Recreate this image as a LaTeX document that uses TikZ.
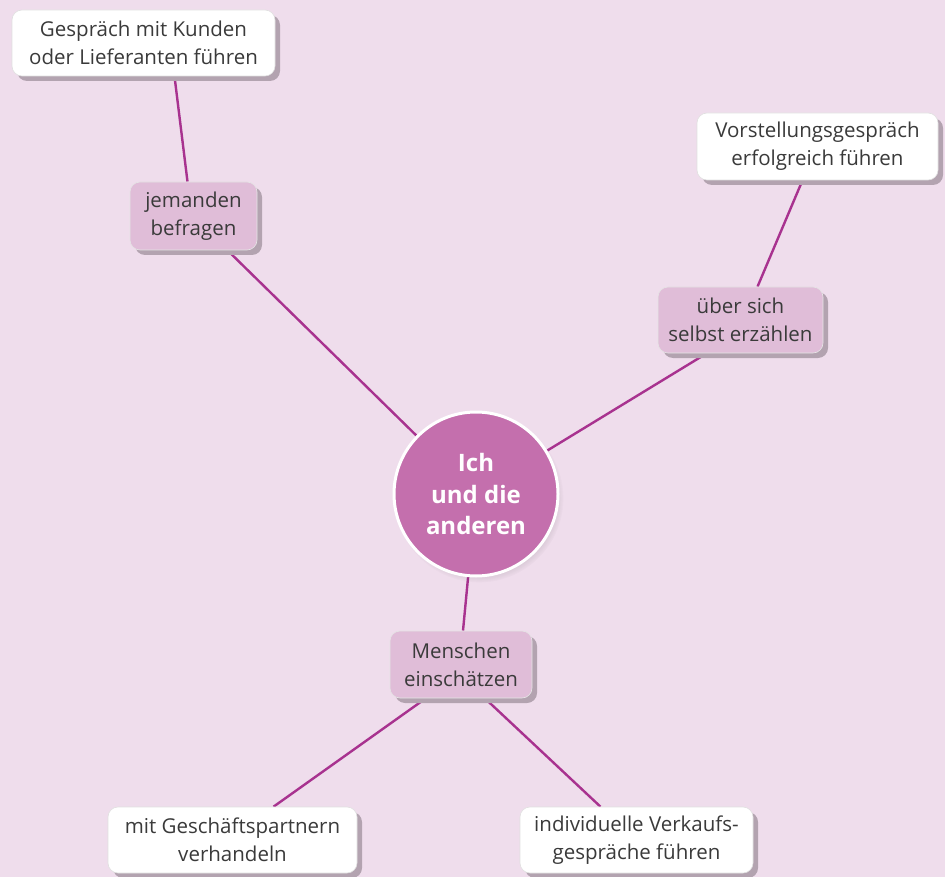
\documentclass[tikz,border=0pt]{standalone}
\usepackage{fontspec}
\setmainfont{Open Sans}
\usetikzlibrary{shadows,calc}
\pgfdeclarelayer{bg}
\pgfsetlayers{bg,main}
\definecolor{bgc}{HTML}{EFDDEC}
\definecolor{pinkbox}{HTML}{E0BDD8}
\definecolor{shadowc}{HTML}{B3A3B0}
\definecolor{linec}{HTML}{A8328F}
\definecolor{circc}{HTML}{C46FAD}
\definecolor{txt}{HTML}{3A3A3A}
\tikzset{
  box/.style={rounded corners=10pt, align=center, text=txt, inner sep=0pt,
    font=\fontsize{20.5}{28}\selectfont,
    drop shadow={shadow xshift=5pt, shadow yshift=-5pt, fill=shadowc, opacity=1}},
  whitebox/.style={box, fill=white, draw=black!12, line width=0.6pt},
  pinkbx/.style={box, fill=pinkbox, draw=black!10, line width=0.6pt},
  hub/.style={circle, fill=circc, draw=white, line width=3pt, minimum size=164pt,
    inner sep=0pt, align=center, text=white, font=\bfseries\fontsize{24}{31.5}\selectfont,
    circular drop shadow={shadow xshift=3pt, shadow yshift=-4pt, fill=black, opacity=0.15, shadow scale=1.03}},
  conn/.style={draw=linec, line width=2.4pt},
}
\begin{document}
\begin{tikzpicture}[x=1pt,y=-1pt]
\begin{pgfonlayer}{bg}
\fill[bgc] (0,0) rectangle (945,877);
\end{pgfonlayer}
\useasboundingbox (0,0) rectangle (945,877);

\node[hub] (c) at (476,494) {Ich\\und die\\anderen};
\node[whitebox, minimum width=263pt, minimum height=66pt] (g) at (143.5,43) {Gespräch mit Kunden\\oder Lieferanten führen};
\node[pinkbx, minimum width=127pt, minimum height=68pt] (j) at (193.5,216) {jemanden\\befragen};
\node[whitebox, minimum width=241pt, minimum height=67pt] (v) at (817.5,146.5) {Vorstellungsgespräch\\erfolgreich führen};
\node[pinkbx, minimum width=165pt, minimum height=66pt] (u) at (740.5,320) {über sich\\selbst erzählen};
\node[pinkbx, minimum width=142pt, minimum height=67pt] (m) at (461,664.5) {Menschen\\einschätzen};
\node[whitebox, minimum width=249pt, minimum height=66pt] (p) at (232.5,840) {mit Geschäftspartnern\\verhandeln};
\node[whitebox, minimum width=233pt, minimum height=66pt] (i) at (636.5,840) {individuelle Verkaufs-\\gespräche führen};

\begin{pgfonlayer}{bg}
\draw[conn] ([xshift=31pt]g.south) -- ([xshift=-6pt]j.north);
\draw[conn] ([xshift=36pt,yshift=-2pt]j.south) -- (c);
\draw[conn] ([xshift=-15pt]v.south) -- ([xshift=17pt]u.north);
\draw[conn] ([xshift=-37pt,yshift=-2pt]u.south) -- (c);
\draw[conn] (c) -- ([xshift=2pt]m.north);
\draw[conn] ([xshift=-38pt,yshift=-2pt]m.south) -- ([xshift=41pt]p.north);
\draw[conn] ([xshift=26pt,yshift=-2pt]m.south) -- ([xshift=-36pt]i.north);
\end{pgfonlayer}
\end{tikzpicture}
\end{document}
